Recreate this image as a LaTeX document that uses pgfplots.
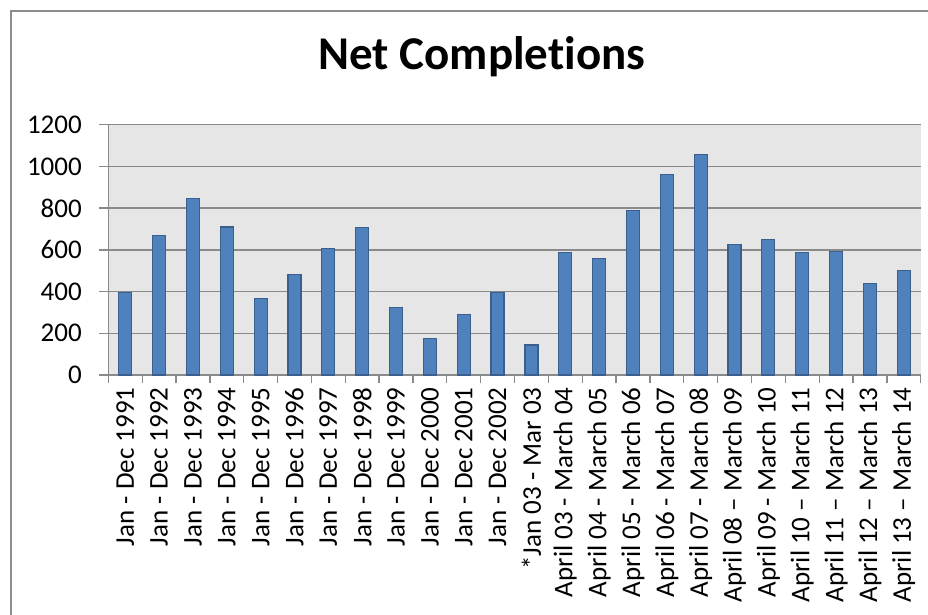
\documentclass[border=0pt]{standalone}
\usepackage{fontspec}
\setmainfont{Carlito}[Ligatures={TeX,NoCommon}]
\usepackage{pgfplots}
\pgfplotsset{compat=1.18}
\definecolor{barfill}{HTML}{4F81BD}
\definecolor{barline}{HTML}{3A5F8E}
\definecolor{gridc}{HTML}{8A8A8A}
\definecolor{plotbg}{HTML}{E6E6E6}
\definecolor{framec}{HTML}{8C8C8C}
\begin{document}
\begin{tikzpicture}
\useasboundingbox (0pt,0pt) rectangle (928pt,614pt);
\draw[framec, line width=2.2pt] (11pt,-20pt) -- (11pt,603pt) -- (960pt,603pt);
\node[anchor=base, font=\bfseries\fontsize{47}{50}\selectfont] at (482pt,544pt) {Net Completions};
\begin{axis}[
  at={(108.3pt,239pt)}, anchor=south west,
  scale only axis, width=812.4pt, height=250.3pt,
  ybar, bar width=13pt,
  xmin=-0.5, xmax=23.5, ymin=0, ymax=1200,
  ytick={0,200,...,1200},
  xtick={0,...,23},
  minor xtick={-0.5,0.5,...,23.5},
  xticklabels={
    Jan - Dec 1991, Jan - Dec 1992, Jan - Dec 1993, Jan - Dec 1994,
    Jan - Dec 1995, Jan - Dec 1996, Jan - Dec 1997, Jan - Dec 1998,
    Jan - Dec 1999, Jan - Dec 2000, Jan - Dec 2001, Jan - Dec 2002,
    *Jan 03 - Mar 03, April 03 - March 04, April 04 - March 05,
    April 05 - March 06, April 06 - March 07, April 07 - March 08,
    April 08 \textendash\ March 09, April 09 - March 10,
    April 10 \textendash\ March 11, April 11 \textendash\ March 12,
    April 12 \textendash\ March 13, April 13 \textendash\ March 14},
  tick align=outside,
  major tick length=9pt, minor tick length=8pt,
  major x tick style={draw=none},
  minor x tick style={gridc, line width=1.3pt},
  major y tick style={gridc, line width=1.3pt},
  axis x line*=bottom, axis y line*=left,
  axis line style={gridc, line width=1.5pt, -},
  ymajorgrids, grid style={gridc, line width=1.4pt},
  axis background/.style={fill=plotbg},
  /pgf/number format/assume math mode=true,
  /pgf/number format/1000 sep={},
  ticklabel style={font=\fontsize{27}{29}\selectfont, text=black},
  yticklabel style={xshift=-14pt},
  xticklabel style={rotate=90, anchor=east},
]
\addplot[fill=barfill, draw=barline, line width=1.2pt] coordinates {
  (0,395) (1,667) (2,846) (3,710) (4,366) (5,483) (6,606) (7,706)
  (8,323) (9,174) (10,291) (11,397) (12,144) (13,587) (14,557) (15,790)
  (16,963) (17,1056) (18,624) (19,650) (20,587) (21,592) (22,440) (23,501)
};
\end{axis}
\end{tikzpicture}
\end{document}
